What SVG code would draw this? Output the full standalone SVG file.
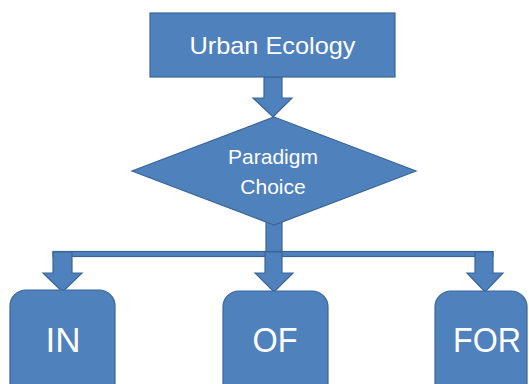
<svg xmlns="http://www.w3.org/2000/svg" width="529" height="384" viewBox="0 0 529 384">
  <style>
    .shape { fill: #4F81BD; stroke: #3A6697; stroke-width: 1.2; }
    .conn { fill: #4F81BD; stroke: #3A6697; stroke-width: 1.2; stroke-linejoin: miter; }
    .label { fill: #FFFFFF; font-family: "Liberation Sans", Arial, sans-serif; text-anchor: middle; }
  </style>
  <rect width="529" height="384" fill="#FFFFFF"/>

  <g id="connectors">
    <!-- block arrow from title box to decision -->
    <path class="conn" d="M264,77 L282,77 L282,98 L292,98 L273,117 L253,98 L264,98 Z"/>
    <!-- stem below decision -->
    <rect class="conn" x="266" y="218" width="16" height="34"/>
    <!-- horizontal distribution bar -->
    <rect class="conn" x="53" y="251.5" width="440" height="5"/>
    <!-- down arrows into each box -->
    <path class="conn" d="M53,252 L72,252 L72,273 L82,273 L62.5,292 L43,273 L53,273 Z"/>
    <path class="conn" d="M265,252 L282,252 L282,273 L293,273 L274,292 L255,273 L265,273 Z"/>
    <path class="conn" d="M475,252 L493,252 L493,273 L503,273 L485,292 L467,273 L475,273 Z"/>
  </g>

  <g id="urban-ecology">
    <rect class="shape" x="150" y="13" width="245" height="64"/>
    <text class="label" x="272.5" y="53.5" font-size="24" textLength="166" lengthAdjust="spacingAndGlyphs">Urban Ecology</text>
  </g>

  <g id="paradigm-choice">
    <polygon class="shape" points="274,117 416,171 274,225 132,171"/>
    <text class="label" x="273" y="164" font-size="21">Paradigm</text>
    <text class="label" x="273" y="194" font-size="21">Choice</text>
  </g>

  <g id="in">
    <rect class="shape" x="10" y="290" width="105" height="120" rx="16" ry="16"/>
    <text class="label" x="63" y="352" font-size="35">IN</text>
  </g>

  <g id="of">
    <rect class="shape" x="223" y="291" width="105" height="120" rx="16" ry="16"/>
    <text class="label" x="275" y="352" font-size="35" textLength="45" lengthAdjust="spacingAndGlyphs">OF</text>
  </g>

  <g id="for">
    <rect class="shape" x="435" y="291" width="92" height="120" rx="16" ry="16"/>
    <text class="label" x="487" y="352" font-size="35" textLength="68" lengthAdjust="spacingAndGlyphs">FOR</text>
  </g>
</svg>
